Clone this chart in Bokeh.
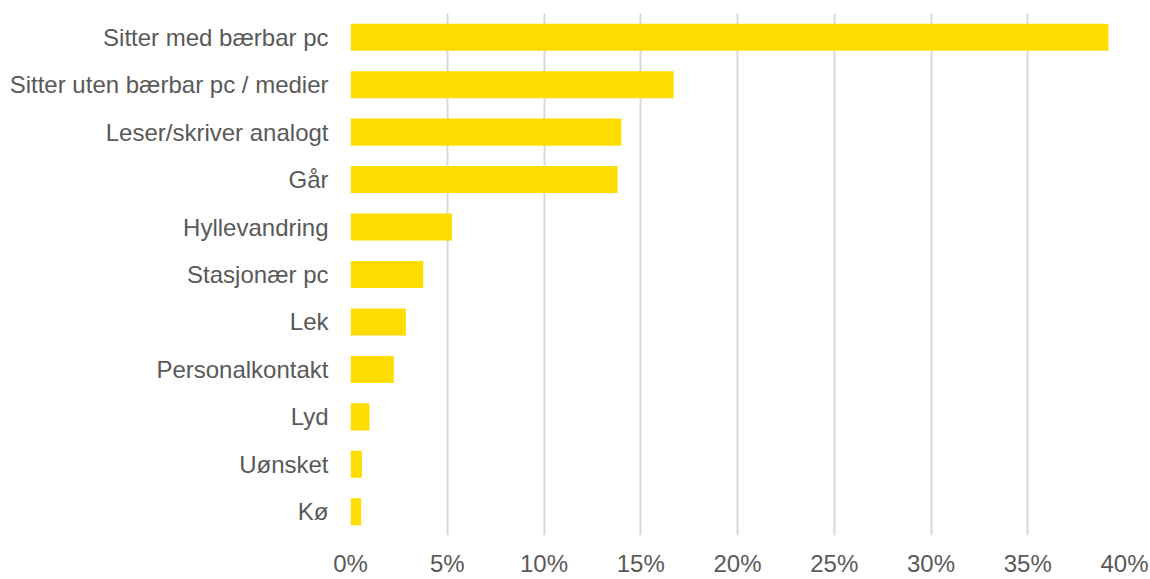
from bokeh.plotting import figure
from bokeh.models import FactorRange, Range1d, FixedTicker, PrintfTickFormatter, ColumnDataSource
from bokeh.embed import file_html
from bokeh.resources import INLINE

categories = ["Sitter med bærbar pc", "Sitter uten bærbar pc / medier", "Leser/skriver analogt",
              "Går", "Hyllevandring", "Stasjonær pc", "Lek", "Personalkontakt", "Lyd",
              "Uønsket", "Kø"]
values = [39.17, 16.7, 14.0, 13.8, 5.25, 3.76, 2.86, 2.24, 0.98, 0.59, 0.55]
x_ticks = [0, 5, 10, 15, 20, 25, 30, 35, 40]

src = ColumnDataSource(dict(cat=categories, val=values))

p = figure(width=1150, height=579, output_backend="svg", toolbar_location=None,
           y_range=FactorRange(factors=list(reversed(categories)), range_padding=0),
           x_range=Range1d(0, 40),
           min_border_left=350, min_border_right=26, min_border_top=13, min_border_bottom=40)

p.hbar(y="cat", right="val", left=0, height=0.57, source=src, color="#FFDD00", line_color=None)

p.outline_line_color = None
p.background_fill_color = "white"
p.border_fill_color = "white"

p.ygrid.grid_line_color = None
p.xgrid.grid_line_color = "#D9D9D9"
p.xgrid.grid_line_width = 2
p.xgrid.ticker = FixedTicker(ticks=x_ticks)
p.xaxis.ticker = FixedTicker(ticks=x_ticks)
p.xaxis.formatter = PrintfTickFormatter(format="%d%%")

for ax in (p.xaxis, p.yaxis):
    ax.axis_line_color = None
    ax.major_tick_line_color = None
    ax.minor_tick_line_color = None
    ax.major_tick_in = 0
    ax.major_tick_out = 0
    ax.major_label_text_font = "Liberation Sans"
    ax.major_label_text_font_size = "24px"
    ax.major_label_text_color = "#595959"

p.yaxis.major_label_standoff = 22
p.xaxis.major_label_standoff = 14

open("out.html", "w").write(file_html(p, INLINE))
